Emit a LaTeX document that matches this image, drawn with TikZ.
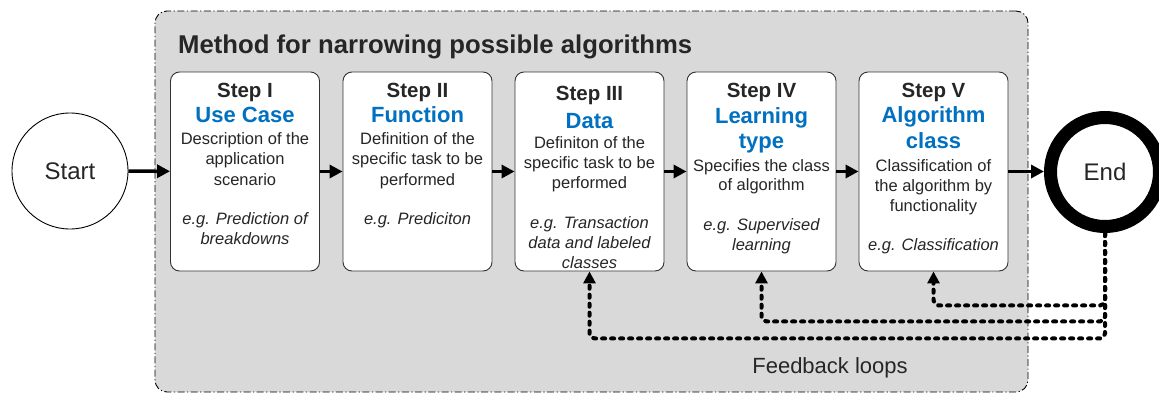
\documentclass[tikz,border=0pt]{standalone}
\usepackage{fontspec}
\setmainfont{Liberation Sans}
\usetikzlibrary{arrows.meta,calc}
\definecolor{bgray}{HTML}{D9D9D9}
\definecolor{stepblue}{HTML}{0070C0}
\definecolor{txt}{HTML}{262626}
\begin{document}
\begin{tikzpicture}[x=1pt,y=-1pt,
  stepbox/.style={draw=black!80, line width=0.9pt, fill=white, rounded corners=9pt, minimum width=149pt, minimum height=199pt, inner sep=0pt},
  hd/.style={font=\fontsize{20.5}{24}\selectfont\bfseries, text=txt, anchor=base, inner sep=0pt},
  ttl/.style={font=\fontsize{22}{26}\selectfont\bfseries, text=stepblue, anchor=base, inner sep=0pt},
  dsc/.style={font=\fontsize{16.5}{20}\selectfont, text=txt, anchor=base, inner sep=0pt},
  eg/.style={font=\fontsize{16.5}{20}\selectfont\itshape, text=txt, anchor=base, inner sep=0pt},
  flow/.style={line width=3.5pt, -{Triangle[length=13pt,width=13pt]}},
  fb/.style={line width=4pt, line cap=round, dash pattern=on 3pt off 6pt, rounded corners=5pt, -{Triangle[length=12pt,width=12pt,line cap=butt]}},
  circ/.style={circle, draw=black, fill=white, text=txt, font=\fontsize{24}{28}\selectfont, inner sep=0pt}
]
\useasboundingbox (0,0) rectangle (1159,397);
% container
\node[draw=black, fill=bgray, line width=0.9pt, rounded corners=12pt,
  dash pattern=on 7pt off 2.5pt on 1.2pt off 2.5pt,
  minimum width=873pt, minimum height=381pt, inner sep=0pt] (cont) at (591.5,201.5) {};
\node[font=\fontsize{25.7}{30}\selectfont\bfseries, text=txt, anchor=base west, inner sep=0pt] (title) at (178,53) {Method for narrowing possible algorithms};

% circles
\node[circ, line width=0.9pt, minimum size=116pt] (start) at (70,171) {Start};
\node[circ, line width=13pt, minimum size=109pt] (end) at (1105,172) {End};

% step boxes
\node[stepbox] (s1) at (245,171.5) {};
\node[stepbox] (s2) at (417.5,171.5) {};
\node[stepbox] (s3) at (589.5,171.5) {};
\node[stepbox] (s4) at (761.5,171.5) {};
\node[stepbox] (s5) at (933.5,171.5) {};

% box I
\node[hd] (h1) at (245,97) {Step I};
\node[ttl] (t1) at (245,122) {Use Case};
\foreach \t/\y [count=\i] in {Description of the/144, application/164.5, scenario/185}
  \node[dsc] (d1\i) at (245,\y) {\t};
\foreach \t/\y [count=\i] in {e.g. Prediction of/224, breakdowns/244}
  \node[eg] (e1\i) at (245,\y) {\t};

% box II
\node[hd] (h2) at (417.5,97) {Step II};
\node[ttl] (t2) at (417.5,122) {Function};
\foreach \t/\y [count=\i] in {Definition of the/144, specific task to be/164.5, performed/185}
  \node[dsc] (d2\i) at (417.5,\y) {\t};
\node[eg] (e21) at (417.5,224) {e.g. Prediciton};

% box III
\node[hd] (h3) at (589.5,100) {Step III};
\node[ttl] (t3) at (589.5,128) {Data};
\foreach \t/\y [count=\i] in {Definiton of the/148, specific task to be/168, performed/188}
  \node[dsc] (d3\i) at (589.5,\y) {\t};
\foreach \t/\y [count=\i] in {e.g. Transaction/228, data and labeled/248, classes/268}
  \node[eg] (e3\i) at (589.5,\y) {\t};

% box IV
\node[hd] (h4) at (761.5,97) {Step IV};
\node[ttl] (t4a) at (761.5,123) {Learning};
\node[ttl] (t4b) at (761.5,148) {type};
\foreach \t/\y [count=\i] in {Specifies the class/171, of algorithm/190.5}
  \node[dsc] (d4\i) at (761.5,\y) {\t};
\foreach \t/\y [count=\i] in {e.g. Supervised/230, learning/250}
  \node[eg] (e4\i) at (761.5,\y) {\t};

% box V
\node[hd] (h5) at (933.5,97) {Step V};
\node[ttl] (t5a) at (933.5,122) {Algorithm};
\node[ttl] (t5b) at (933.5,148) {class};
\foreach \t/\y [count=\i] in {Classification of/171, the algorithm by/191, functionality/211}
  \node[dsc] (d5\i) at (933.5,\y) {\t};
\node[eg] (e51) at (933.5,250) {e.g. Classification};

% flow arrows
\draw[flow] (start) -- (s1);
\draw[flow] (s1) -- (s2);
\draw[flow] (s2) -- (s3);
\draw[flow] (s3) -- (s4);
\draw[flow] (s4) -- (s5);
\draw[flow] (s5.east) -- (s5.east -| end.west);

% feedback loops
\draw[fb] (end.south) |- ($(s5.south)+(0,34)$) -- (s5.south);
\draw[fb] (end.south) |- ($(s4.south)+(0,50)$) -- (s4.south);
\draw[fb] (end.south) |- ($(s3.south)+(0,67)$) -- (s3.south);
\node[font=\fontsize{22}{26}\selectfont, text=txt, anchor=base, inner sep=0pt] (fbl) at (830,373) {Feedback loops};
\end{tikzpicture}
\end{document}
